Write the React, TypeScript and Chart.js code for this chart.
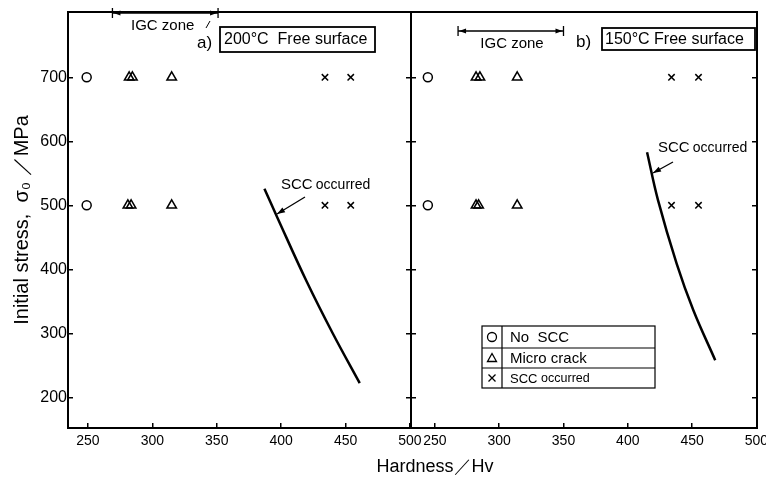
import React, { useEffect, useRef } from "react";
import { Chart, registerables } from "chart.js";

Chart.register(...registerables);

// ---- shared axes ----
const xTicks = [250, 300, 350, 400, 450, 500];
const yTicks = [200, 300, 400, 500, 600, 700];
const yRange = [152, 802];
const xRangeA = [234.5, 500.8];
const xRangeB = [231.4, 500.5];

// ---- panel a) 200°C Free surface ----
const aNoSccX = [249, 249];
const aNoSccY = [700, 500];
const aMicroX = [282, 284.5, 315, 281, 283.5, 315];
const aMicroY = [700, 700, 700, 500, 500, 500];
const aSccX = [434, 454, 434, 454];
const aSccY = [700, 700, 500, 500];
const aCurveX = [387, 397, 420, 440, 461];
const aCurveY = [526, 481, 380, 300, 222];
const aIgcZone = [269, 351];

// ---- panel b) 150°C Free surface ----
const bNoSccX = [244.5, 244.5];
const bNoSccY = [700, 500];
const bMicroX = [282, 285, 314, 282, 284, 314];
const bMicroY = [700, 700, 700, 500, 500, 500];
const bSccX = [434, 455, 434, 455];
const bSccY = [700, 700, 500, 500];
const bCurveX = [415, 423.5, 438, 451, 468];
const bCurveY = [583, 508, 409, 336, 258];
const bIgcZone = [268, 350];

const FONT = '"Liberation Sans", Arial, sans-serif';
const NARROW = '"Liberation Sans Narrow", "Liberation Sans", Arial, sans-serif';

const pts = (xs: number[], ys: number[]) => xs.map((x, i) => ({ x, y: ys[i] }));

function datasets(noX, noY, miX, miY, scX, scY, cuX, cuY) {
  return [
    { label: "No SCC", data: pts(noX, noY), pointStyle: "circle", pointRadius: 4.5, borderColor: "#000", backgroundColor: "#fff", borderWidth: 1.5, showLine: false },
    { label: "Micro crack", data: pts(miX, miY), pointStyle: "triangle", pointRadius: 5.5, borderColor: "#000", backgroundColor: "rgba(0,0,0,0)", borderWidth: 1.5, showLine: false },
    { label: "SCC occurred", data: pts(scX, scY), pointStyle: "crossRot", pointRadius: 4.5, borderColor: "#000", backgroundColor: "#000", borderWidth: 1.5, showLine: false },
    { label: "SCC boundary", data: pts(cuX, cuY), showLine: true, pointRadius: 0, borderColor: "#000", borderWidth: 2.5, tension: 0.4, fill: false },
  ];
}

function xScale(range: number[]) {
  return {
    type: "linear",
    min: range[0],
    max: range[1],
    afterBuildTicks: (s: any) => { s.ticks = xTicks.map((v) => ({ value: v })); },
    afterFit: (s: any) => { s.height = 60; s.paddingLeft = 0; s.paddingRight = 0; },
    ticks: { color: "#000", font: { family: FONT, size: 14 }, padding: 10, maxRotation: 0, autoSkip: false },
    grid: { drawOnChartArea: false, tickLength: -5, color: "#000", lineWidth: 1.5 },
    border: { display: false },
  };
}

function yScale(position: string, showLabels: boolean, width: number, title?: string) {
  const s: any = {
    type: "linear",
    position,
    min: yRange[0],
    max: yRange[1],
    afterBuildTicks: (sc: any) => { sc.ticks = yTicks.map((v) => ({ value: v })); },
    afterFit: (sc: any) => { sc.width = width; sc.paddingTop = 0; sc.paddingBottom = 0; },
    ticks: { display: showLabels, color: "#000", font: { family: NARROW, size: 16 }, padding: 6 },
    grid: { drawOnChartArea: false, tickLength: -5, color: "#000", lineWidth: 1.5 },
    border: { display: false },
  };
  if (title) {
    s.title = { display: true, text: title, color: "#000", font: { family: FONT, size: 20 }, padding: { top: 10, bottom: 0 } };
  }
  return s;
}

function arrowHead(ctx, fx, fy, tx, ty, len, half) {
  const a = Math.atan2(ty - fy, tx - fx);
  ctx.beginPath();
  ctx.moveTo(tx, ty);
  ctx.lineTo(tx - len * Math.cos(a) + half * Math.sin(a), ty - len * Math.sin(a) - half * Math.cos(a));
  ctx.lineTo(tx - len * Math.cos(a) - half * Math.sin(a), ty - len * Math.sin(a) + half * Math.cos(a));
  ctx.closePath();
  ctx.fill();
}

function bracket(ctx, x1, x2, y) {
  ctx.lineWidth = 1.3;
  ctx.beginPath();
  ctx.moveTo(x1, y); ctx.lineTo(x2, y);
  ctx.moveTo(x1, y - 5); ctx.lineTo(x1, y + 5);
  ctx.moveTo(x2, y - 5); ctx.lineTo(x2, y + 5);
  ctx.stroke();
  arrowHead(ctx, x1 + 12, y, x1 + 1, y, 7, 2.5);
  arrowHead(ctx, x2 - 12, y, x2 - 1, y, 7, 2.5);
}

function sccLabel(ctx, ox, x, base, ax1, ay1, ax2, ay2) {
  ctx.textAlign = "left";
  ctx.textBaseline = "alphabetic";
  ctx.font = `15px ${FONT}`;
  ctx.fillText("SCC", x - ox, base);
  const w = ctx.measureText("SCC ").width;
  ctx.font = `14px ${FONT}`;
  ctx.fillText("occurred", x - ox + w - 1, base);
  ctx.lineWidth = 1.3;
  ctx.beginPath();
  ctx.moveTo(ax1 - ox, ay1);
  ctx.lineTo(ax2 - ox, ay2);
  ctx.stroke();
  arrowHead(ctx, ax1 - ox, ay1, ax2 - ox, ay2, 8, 2.8);
}

function frame(ctx, ca) {
  ctx.lineWidth = 2;
  ctx.strokeStyle = "#000";
  ctx.strokeRect(ca.left, ca.top, ca.right - ca.left, ca.bottom - ca.top);
}

const annotA = {
  id: "annotA",
  afterDraw(chart: any) {
    const { ctx, chartArea: ca, scales } = chart;
    const ox = 0;
    ctx.save();
    ctx.fillStyle = "#000";
    ctx.strokeStyle = "#000";
    frame(ctx, ca);
    bracket(ctx, scales.x.getPixelForValue(aIgcZone[0]), scales.x.getPixelForValue(aIgcZone[1]), 13);
    ctx.font = `15px ${FONT}`;
    ctx.textAlign = "left";
    ctx.textBaseline = "middle";
    ctx.fillText("IGC zone", 131 - ox, 26);
    ctx.lineWidth = 1;
    ctx.beginPath();
    ctx.moveTo(206, 28); ctx.lineTo(210, 21); ctx.stroke();
    ctx.font = `17px ${FONT}`;
    ctx.fillText("a)", 197 - ox, 43);
    ctx.lineWidth = 1.8;
    ctx.strokeRect(220 - ox, 27, 155, 25);
    ctx.font = `16px ${FONT}`;
    ctx.fillText("200°C  Free surface", 224 - ox, 40);
    sccLabel(ctx, ox, 281, 189, 305, 197, 277, 214);
    ctx.restore();
  },
};

const annotB = {
  id: "annotB",
  afterDraw(chart: any) {
    const { ctx, chartArea: ca, scales } = chart;
    const ox = 395;
    ctx.save();
    ctx.fillStyle = "#000";
    ctx.strokeStyle = "#000";
    frame(ctx, ca);
    bracket(ctx, scales.x.getPixelForValue(bIgcZone[0]), scales.x.getPixelForValue(bIgcZone[1]), 31);
    ctx.font = `15px ${FONT}`;
    ctx.textAlign = "center";
    ctx.textBaseline = "middle";
    ctx.fillText("IGC zone", 512 - ox, 44);
    ctx.textAlign = "left";
    ctx.font = `17px ${FONT}`;
    ctx.fillText("b)", 576 - ox, 42);
    ctx.lineWidth = 1.8;
    ctx.strokeRect(602 - ox, 28, 153, 22);
    ctx.font = `16px ${FONT}`;
    ctx.fillText("150°C Free surface", 605 - ox, 39.5);
    sccLabel(ctx, ox, 658, 152, 673, 162, 653, 173);

    // legend table
    const L = 482 - ox, R = 655 - ox, T = 326, B = 388, D = 502 - ox;
    const rows = [326, 348, 368, 388];
    ctx.lineWidth = 1.2;
    ctx.strokeRect(L, T, R - L, B - T);
    ctx.beginPath();
    ctx.moveTo(L, rows[1]); ctx.lineTo(R, rows[1]);
    ctx.moveTo(L, rows[2]); ctx.lineTo(R, rows[2]);
    ctx.moveTo(D, T); ctx.lineTo(D, B);
    ctx.stroke();
    const sx = 492 - ox;
    const cy = [337, 358, 378];
    ctx.lineWidth = 1.3;
    ctx.beginPath(); ctx.arc(sx, cy[0], 4.5, 0, Math.PI * 2); ctx.stroke();
    ctx.beginPath();
    ctx.moveTo(sx, cy[1] - 4.5); ctx.lineTo(sx + 4.5, cy[1] + 3.5); ctx.lineTo(sx - 4.5, cy[1] + 3.5); ctx.closePath(); ctx.stroke();
    ctx.beginPath();
    ctx.moveTo(sx - 3.5, cy[2] - 3.5); ctx.lineTo(sx + 3.5, cy[2] + 3.5);
    ctx.moveTo(sx + 3.5, cy[2] - 3.5); ctx.lineTo(sx - 3.5, cy[2] + 3.5);
    ctx.stroke();
    ctx.textAlign = "left";
    ctx.textBaseline = "middle";
    ctx.font = `15px ${FONT}`;
    ctx.fillText("No  SCC", 510 - ox, cy[0] + 1);
    ctx.fillText("Micro crack", 510 - ox, cy[1] + 1);
    ctx.font = `13px ${FONT}`;
    ctx.fillText("SCC", 510 - ox, cy[2] + 1);
    const w = ctx.measureText("SCC ").width;
    ctx.font = `12.5px ${FONT}`;
    ctx.fillText("occurred", 510 - ox + w, cy[2] + 1);
    ctx.restore();
  },
};

export default function App() {
  const refA = useRef<HTMLCanvasElement>(null);
  const refB = useRef<HTMLCanvasElement>(null);

  useEffect(() => {
    const common = {
      animation: false,
      responsive: false,
      plugins: { legend: { display: false }, tooltip: { enabled: false } },
    };
    const chartA = new Chart(refA.current!, {
      type: "scatter",
      data: { datasets: datasets(aNoSccX, aNoSccY, aMicroX, aMicroY, aSccX, aSccY, aCurveX, aCurveY) as any },
      options: {
        ...common,
        layout: { padding: { top: 12, left: 0, right: 19, bottom: 0 } },
        scales: {
          x: xScale(xRangeA),
          y: yScale("left", true, 68, "Initial stress,  σ₀ ／MPa"),
          y2: yScale("right", false, 0),
        },
      } as any,
      plugins: [annotA],
    });
    const chartB = new Chart(refB.current!, {
      type: "scatter",
      data: { datasets: datasets(bNoSccX, bNoSccY, bMicroX, bMicroY, bSccX, bSccY, bCurveX, bCurveY) as any },
      options: {
        ...common,
        layout: { padding: { top: 12, left: 16, right: 9, bottom: 0 } },
        scales: {
          x: xScale(xRangeB),
          y: yScale("left", false, 0),
          y2: yScale("right", false, 0),
        },
      } as any,
      plugins: [annotB],
    });
    return () => {
      chartA.destroy();
      chartB.destroy();
    };
  }, []);

  return (
    <div style={{ position: "fixed", left: 0, top: 0, width: 766, height: 488, background: "#fff", overflow: "hidden" }}>
      <canvas ref={refA} width={430} height={488} style={{ position: "absolute", left: 0, top: 0 }} />
      <canvas ref={refB} width={371} height={488} style={{ position: "absolute", left: 395, top: 0 }} />
      <div
        style={{
          position: "absolute",
          left: 335,
          top: 456,
          width: 200,
          textAlign: "center",
          fontFamily: FONT,
          fontSize: 18,
          lineHeight: "20px",
          color: "#000",
        }}
      >
        Hardness／Hv
      </div>
    </div>
  );
}
